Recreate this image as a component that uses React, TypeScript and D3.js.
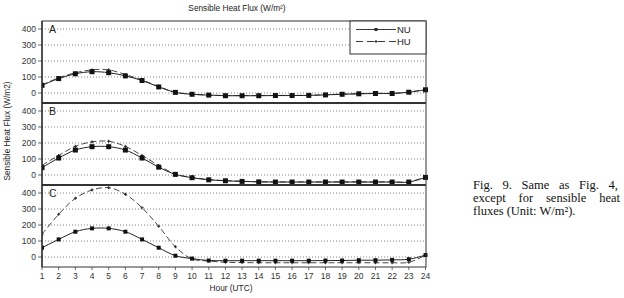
import React, { useEffect, useRef } from "react";
import * as d3 from "d3";

const hours = [1, 2, 3, 4, 5, 6, 7, 8, 9, 10, 11, 12, 13, 14, 15, 16, 17, 18, 19, 20, 21, 22, 23, 24];
const yTicks = [0, 100, 200, 300, 400];
const panelNames = ["A", "B", "C"];
const seriesNames = ["NU", "HU"];

const A_NU = [48, 90, 120, 133, 127, 107, 78, 38, 4, -8, -13, -17, -17, -17, -16, -16, -15, -12, -8, -5, -3, -3, 5, 20];
const A_HU = [50, 95, 126, 145, 145, 115, 82, 40, 5, -8, -13, -16, -16, -16, -15, -15, -14, -11, -7, -4, -2, -2, 6, 22];
const B_NU = [46, 106, 156, 177, 177, 156, 106, 49, 4, -17, -30, -36, -40, -43, -44, -44, -44, -44, -44, -44, -44, -44, -44, -15];
const B_HU = [60, 122, 179, 207, 211, 179, 122, 60, 6, -15, -28, -35, -39, -42, -43, -43, -43, -43, -43, -43, -43, -43, -43, -12];
const C_NU = [58, 110, 158, 179, 179, 158, 110, 58, 8, -10, -22, -23, -23, -23, -23, -23, -23, -22, -22, -20, -20, -18, -14, 12];
const C_HU = [142, 267, 367, 419, 433, 392, 308, 192, 64, -12, -25, -33, -35, -36, -36, -36, -36, -36, -36, -36, -36, -36, -33, 12];

const panelData = [
  [A_NU, A_HU],
  [B_NU, B_HU],
  [C_NU, C_HU],
];

const title = "Sensible Heat Flux (W/m²)";
const yLabel = "Sensible Heat Flux (W/m2)";
const xLabel = "Hour (UTC)";
const captionLines = ["Fig. 9. Same as Fig. 4,", "except for sensible heat", "fluxes (Unit: W/m²)."];
const captionWidths = [145, 147, 0];

const SANS = "'Liberation Sans', Arial, sans-serif";
const SERIF = "'Liberation Serif', 'Times New Roman', serif";

export default function App() {
  const capRefs = useRef<(SVGTextElement | null)[]>([]);
  useEffect(() => {
    capRefs.current.forEach((el, i) => {
      if (!el || !captionWidths[i]) return;
      el.style.wordSpacing = "0px";
      const len = el.getComputedTextLength();
      const spaces = captionLines[i].split(" ").length - 1;
      const extra = (captionWidths[i] - len) / spaces;
      el.style.wordSpacing = `${extra}px`;
    });
  }, []);

  const left = 42;
  const right = 426;
  const top = 21;
  const panelH = 82;
  const bottom = top + panelH * 3;
  const x = d3.scaleLinear().domain([1, 24]).range([left, right - 0.5]);
  const line = (ys: d3.ScaleLinear<number, number>) =>
    d3
      .line<number>()
      .x((_, i) => x(hours[i]))
      .y((d) => ys(d))
      .curve(d3.curveCatmullRom.alpha(0.5));

  return (
    <svg
      width={624}
      height={298}
      style={{ position: "absolute", left: 0, top: 0, background: "#fff" }}
    >
      <rect x={0} y={0} width={624} height={298} fill="#fff" />
      <text x={237} y={11} fontFamily={SANS} fontSize={8.3} fill="#222" textAnchor="middle">
        {title}
      </text>
      {panelNames.map((name, p) => {
        const pt = top + p * panelH;
        const ys = d3.scaleLinear().domain([-62.5, 450]).range([pt + panelH, pt]);
        const [nu, hu] = panelData[p];
        return (
          <g key={name}>
            <defs>
              <clipPath id={`clip${p}`}>
                <rect x={left} y={pt + 1} width={right - left + 2} height={panelH - 2} />
              </clipPath>
            </defs>
            {yTicks.map((t) => (
              <g key={t}>
                <line
                  x1={left}
                  x2={right}
                  y1={ys(t)}
                  y2={ys(t)}
                  stroke="#666"
                  strokeWidth={0.8}
                  strokeDasharray="1,2"
                />
                <line x1={left - 4} x2={left} y1={ys(t)} y2={ys(t)} stroke="#444" strokeWidth={0.8} />
                <text
                  x={left - 6}
                  y={ys(t) + 3}
                  fontFamily={SANS}
                  fontSize={8.5}
                  fill="#333"
                  textAnchor="end"
                >
                  {t}
                </text>
              </g>
            ))}
            <text x={49} y={pt + 12} fontFamily={SANS} fontSize={10.5} fill="#222">
              {name}
            </text>
            <g clipPath={`url(#clip${p})`}>
              <path d={line(ys)(hu) || ""} fill="none" stroke="#333" strokeWidth={0.9} strokeDasharray="6,3" />
              <path d={line(ys)(nu) || ""} fill="none" stroke="#222" strokeWidth={1} />
              {hu.map((v, i) => (
                <g key={"h" + i}>
                  <line x1={x(hours[i]) - 1.5} x2={x(hours[i]) + 1.5} y1={ys(v)} y2={ys(v)} stroke="#222" strokeWidth={1} />
                  <line x1={x(hours[i])} x2={x(hours[i])} y1={ys(v) - 1.5} y2={ys(v) + 1.5} stroke="#222" strokeWidth={1} />
                </g>
              ))}
              {nu.map((v, i) => (
                <rect
                  key={"n" + i}
                  x={x(hours[i]) - (p === 2 ? 2 : 2.5)}
                  y={ys(v) - (p === 2 ? 2 : 2.5)}
                  width={p === 2 ? 4 : 5}
                  height={p === 2 ? 4 : 5}
                  fill="#111"
                />
              ))}
            </g>
            {p > 0 && <line x1={left} x2={right} y1={pt} y2={pt} stroke="#333" strokeWidth={2} />}
          </g>
        );
      })}
      <rect x={left} y={top} width={right - left} height={bottom - top} fill="none" stroke="#333" strokeWidth={1} />
      <line x1={left} x2={left} y1={top} y2={bottom} stroke="#222" strokeWidth={1.2} />
      {hours.map((h) => (
        <g key={h}>
          <line x1={x(h)} x2={x(h)} y1={bottom} y2={bottom + 3} stroke="#444" strokeWidth={0.8} />
          <text x={x(h)} y={279} fontFamily={SANS} fontSize={8.5} fill="#333" textAnchor="middle">
            {h}
          </text>
        </g>
      ))}
      <text x={231} y={291} fontFamily={SANS} fontSize={8.3} fill="#222" textAnchor="middle">
        {xLabel}
      </text>
      <text
        transform="translate(10,131) rotate(-90)"
        fontFamily={SANS}
        fontSize={8.3}
        fill="#222"
        textAnchor="middle"
      >
        {yLabel}
      </text>
      {/* legend */}
      <g>
        <rect x={350} y={top} width={right - 350} height={33} fill="#fff" stroke="#333" strokeWidth={1} />
        {seriesNames.map((s, i) => {
          const ly = top + 8.5 + i * 12;
          return (
            <g key={s}>
              <line
                x1={356}
                x2={396}
                y1={ly}
                y2={ly}
                stroke="#222"
                strokeWidth={0.9}
                strokeDasharray={i === 1 ? "7,4" : undefined}
              />
              {i === 0 ? (
                <rect x={374.5} y={ly - 1.5} width={3} height={3} fill="#222" />
              ) : (
                <g>
                  <line x1={374.5} x2={377.5} y1={ly} y2={ly} stroke="#222" />
                  <line x1={376} x2={376} y1={ly - 1.5} y2={ly + 1.5} stroke="#222" />
                </g>
              )}
              <text x={397} y={ly + 3.5} fontFamily={SANS} fontSize={9.5} fill="#222">
                {s}
              </text>
            </g>
          );
        })}
      </g>
      {/* caption */}
      {captionLines.map((c, i) => (
        <text
          key={i}
          ref={(el) => {
            capRefs.current[i] = el;
          }}
          x={473}
          y={189 + i * 12.8}
          fontFamily={SERIF}
          fontSize={12.5}
          fill="#111"
        >
          {c}
        </text>
      ))}
    </svg>
  );
}
